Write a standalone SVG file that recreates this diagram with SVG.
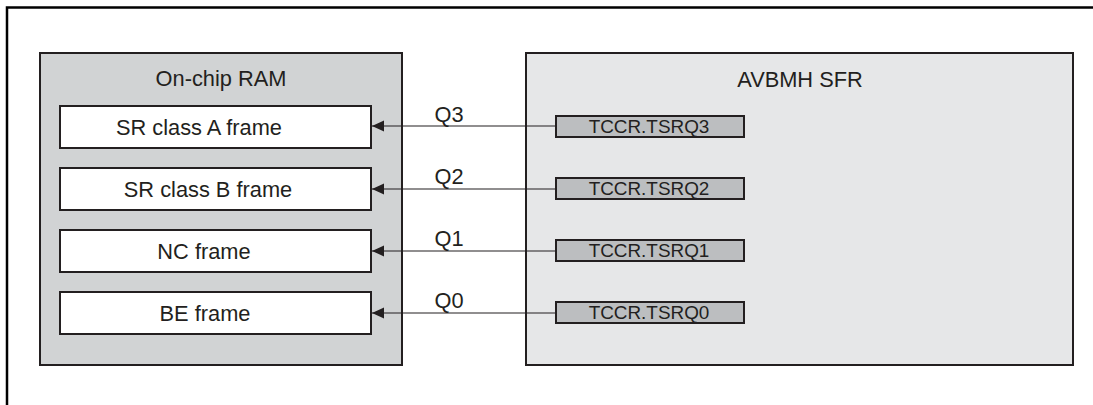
<svg xmlns="http://www.w3.org/2000/svg" width="1093" height="405" viewBox="0 0 1093 405">
<defs>
<style>
text{font-family:"Liberation Sans",Arial,sans-serif;fill:#231f20}
.ram{fill:#d1d3d4;stroke:#231f20;stroke-width:2}
.sfr{fill:#e6e7e8;stroke:#231f20;stroke-width:2}
.frame{fill:#fff;stroke:#231f20;stroke-width:2}
.reg{fill:#bcbec0;stroke:#231f20;stroke-width:2}
.t{font-size:21.8px;text-anchor:middle}
.r{font-size:18.9px;text-anchor:middle}
.conn{stroke:#231f20;stroke-width:1.2;fill:none;marker-end:url(#ah)}
</style>
<marker id="ah" markerUnits="userSpaceOnUse" markerWidth="12" markerHeight="12" viewBox="0 0 10 10" refX="10" refY="5" orient="auto">
<path d="M0,0.5 L10,5 L0,9.5 Z" fill="#231f20"/>
</marker>
</defs>
<rect width="1093" height="405" fill="#fff"/>
<path d="M7,405 V7.5 H1093" fill="none" stroke="#000" stroke-width="2.5"/>
<g id="ram">
<rect class="ram" x="40" y="53" width="362" height="312"/>
<text class="t" x="221" y="86">On-chip RAM</text>
</g>
<g id="sfr">
<rect class="sfr" x="526" y="53" width="547" height="312"/>
<text class="t" x="800" y="87">AVBMH SFR</text>
</g>
<g id="frameA"><rect class="frame" x="60" y="106" width="311" height="42"/><text class="t" x="199" y="135">SR class A frame</text></g>
<g id="frameB"><rect class="frame" x="60" y="168" width="311" height="42"/><text class="t" x="208" y="197">SR class B frame</text></g>
<g id="frameNC"><rect class="frame" x="60" y="230" width="311" height="42"/><text class="t" x="204" y="259">NC frame</text></g>
<g id="frameBE"><rect class="frame" x="60" y="292" width="311" height="42"/><text class="t" x="205" y="321">BE frame</text></g>
<g id="reg3"><rect class="reg" x="556" y="116" width="188" height="21"/><text class="r" x="649" y="133">TCCR.TSRQ3</text></g>
<g id="reg2"><rect class="reg" x="556" y="178" width="188" height="21"/><text class="r" x="649" y="195">TCCR.TSRQ2</text></g>
<g id="reg1"><rect class="reg" x="556" y="240" width="188" height="21"/><text class="r" x="649" y="257">TCCR.TSRQ1</text></g>
<g id="reg0"><rect class="reg" x="556" y="302" width="188" height="21"/><text class="r" x="649" y="319">TCCR.TSRQ0</text></g>
<g id="connectors">
<line class="conn" x1="556" y1="126" x2="372" y2="126"/>
<line class="conn" x1="556" y1="189" x2="372" y2="189"/>
<line class="conn" x1="556" y1="251" x2="372" y2="251"/>
<line class="conn" x1="556" y1="313" x2="372" y2="313"/>
<text class="t" x="449" y="122">Q3</text>
<text class="t" x="449" y="184">Q2</text>
<text class="t" x="449" y="246">Q1</text>
<text class="t" x="449" y="308">Q0</text>
</g>
</svg>
